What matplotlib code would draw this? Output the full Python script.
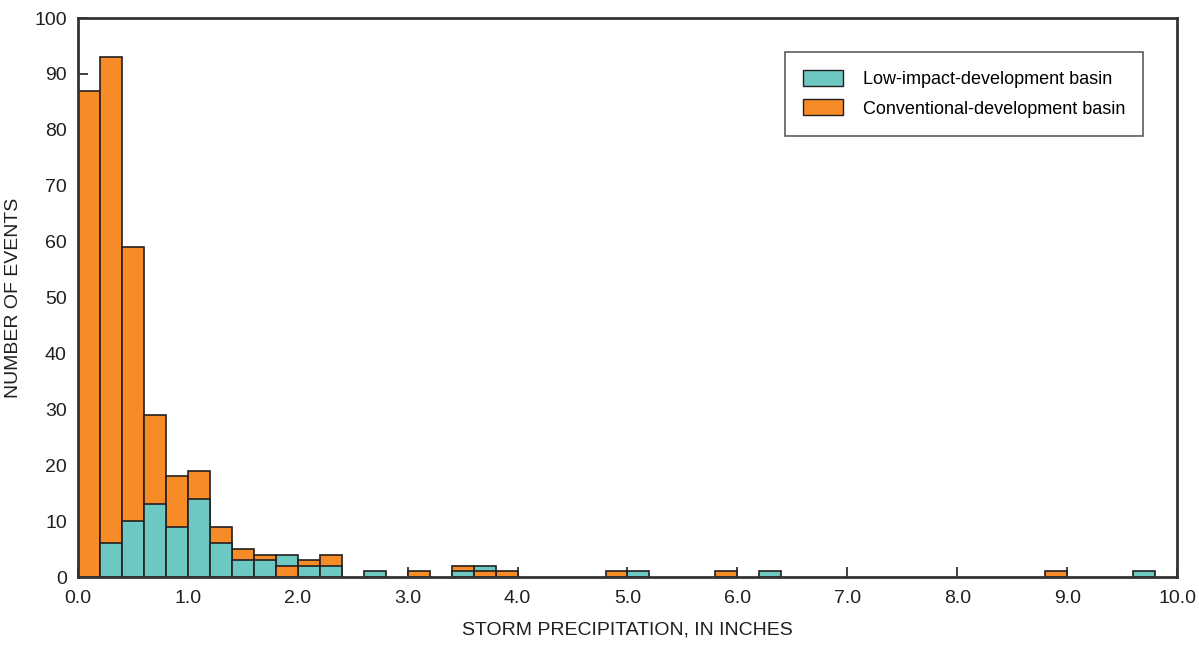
import numpy as np
import matplotlib.pyplot as plt
from matplotlib.patches import Patch

# bin edges every 0.2 inch, 0 to 10
bin_left = np.round(np.arange(0, 10, 0.2), 1)
bin_width = 0.2

# counts (left edge of bin -> count)
lid = {0.2: 6, 0.4: 10, 0.6: 13, 0.8: 9, 1.0: 14, 1.2: 6, 1.4: 3, 1.6: 3,
       1.8: 4, 2.0: 2, 2.2: 2, 2.6: 1, 3.4: 1, 3.6: 2, 5.0: 1, 6.2: 1, 9.6: 1}
conv = {0.0: 87, 0.2: 93, 0.4: 59, 0.6: 29, 0.8: 18, 1.0: 19, 1.2: 9, 1.4: 5,
        1.6: 4, 1.8: 2, 2.0: 3, 2.2: 4, 3.0: 1, 3.4: 2, 3.6: 1, 3.8: 1,
        4.8: 1, 5.8: 1, 8.8: 1}

lid_counts = np.array([lid.get(b, 0) for b in bin_left])
conv_counts = np.array([conv.get(b, 0) for b in bin_left])

teal = '#6cc8c0'
orange = '#f68b28'
edge = '#231f20'
plt.rcParams['font.family'] = ['Liberation Sans', 'DejaVu Sans']

fig = plt.figure(figsize=(11.99, 6.45), dpi=100)
ax = fig.add_axes([0.065, 0.1054, 0.9167, 0.8666])

b1 = ax.bar(bin_left, lid_counts, width=bin_width, align='edge',
            color=teal, edgecolor=edge, linewidth=1.2)
b2 = ax.bar(bin_left, conv_counts, width=bin_width, align='edge',
            color=orange, edgecolor=edge, linewidth=1.2)

# smaller bar of each bin sits in front
for p1, p2, a, c in zip(b1.patches, b2.patches, lid_counts, conv_counts):
    if a == 0:
        p1.set_visible(False)
    if c == 0:
        p2.set_visible(False)
    if a <= c:
        p1.set_zorder(3)
        p2.set_zorder(2)
    else:
        p1.set_zorder(2)
        p2.set_zorder(3)

ax.set_xlim(0, 10)
ax.set_ylim(0, 100)
ax.set_xticks(np.arange(0, 11, 1))
ax.set_xticklabels(['%.1f' % v for v in np.arange(0, 11, 1)])
ax.set_yticks(np.arange(0, 101, 10))
ax.tick_params(direction='in', length=7, width=1.2, labelsize=14,
               colors='#231f20')
ax.tick_params(axis='x', pad=9)
ax.tick_params(axis='y', pad=8)
for s in ax.spines.values():
    s.set_linewidth(2)
    s.set_color('#333333')
    s.set_zorder(5)

ax.set_xlabel('STORM PRECIPITATION, IN INCHES', fontsize=14, labelpad=11,
              color='#231f20')
ax.set_ylabel('NUMBER OF EVENTS', fontsize=14, labelpad=9, color='#231f20')

handles = [Patch(facecolor=teal, edgecolor=edge, label='Low-impact-development basin'),
           Patch(facecolor=orange, edgecolor=edge, label='Conventional-development basin')]
leg = ax.legend(handles=handles, loc='upper right', bbox_to_anchor=(0.969, 0.939),
                fontsize=13, frameon=True, fancybox=False, borderpad=1.0,
                handlelength=2.2, handleheight=1.0, handletextpad=1.1,
                labelspacing=0.6, borderaxespad=0)
leg.get_frame().set_edgecolor('#333333')
leg.get_frame().set_linewidth(1.2)

fig.savefig('out.png', dpi=100)
